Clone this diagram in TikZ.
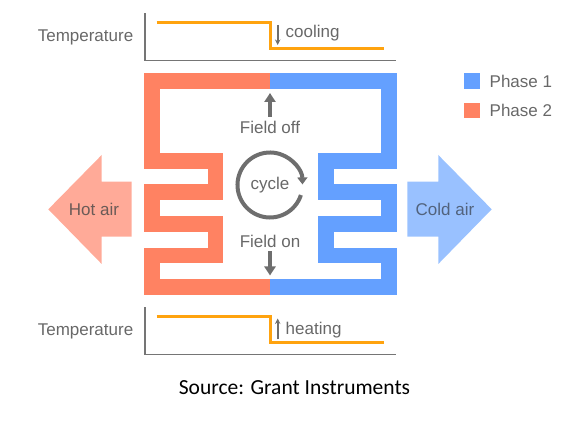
\documentclass[tikz,border=0pt]{standalone}
\usepackage{fontspec}
\setmainfont{Liberation Sans}
\newfontfamily\srcfont{Carlito}
\usetikzlibrary{arrows.meta}
\definecolor{phaseA}{HTML}{64A0FF}
\definecolor{phaseB}{HTML}{FF8262}
\definecolor{hotc}{HTML}{FFAA98}
\definecolor{coldc}{HTML}{99C1FF}
\definecolor{txt}{HTML}{686868}
\definecolor{hottxt}{HTML}{6B5B57}
\definecolor{coldtxt}{HTML}{52637D}
\definecolor{axisc}{HTML}{757575}
\definecolor{orangec}{HTML}{FFA30F}
\definecolor{arrc}{HTML}{6E6E6E}
\begin{document}
\begin{tikzpicture}[x=1pt,y=-1pt,
  lbl/.style={font=\fontsize{17}{20}\selectfont, text=txt, inner sep=0pt},
  band/.style={line width=15.8pt, line join=miter},
  axisline/.style={draw=axisc, line width=1.5pt},
  templine/.style={draw=orangec, line width=3pt, line join=miter},
  smallarr/.style={draw=arrc, line width=1.6pt, -{Stealth[length=5.5pt,width=5.5pt]}},
  fieldarr/.style={draw=arrc, line width=3.8pt, -{Triangle[length=9pt,width=11pt]}},
  legendsq/.style={minimum size=15.7pt, inner sep=0pt, draw=none}]
\useasboundingbox (0,0) rectangle (579,435);

% ---------- top temperature chart ----------
\node[lbl] (t1) at (85.5,37) {Temperature};
\draw[axisline] (145,13.3) -- (145,60.5) -- (395.7,60.5);
\draw[templine] (156.7,23) -- (270,23) -- (270,49) -- (384.3,49);
\coordinate (c1a) at (277.7,25);
\coordinate (c1b) at (277.7,45);
\draw[smallarr] (c1a) -- (c1b);
\node[lbl, anchor=west] (cool) at (285.5,33.5) {cooling};

% ---------- serpentine ----------
\draw[band, phaseB] (270,81.3) -- (152,81.3) -- (152,160.9) -- (215.5,160.9) -- (215.5,192.2) -- (152,192.2) -- (152,223.9) -- (215.5,223.9) -- (215.5,255.5) -- (152,255.5) -- (152,287.2) -- (270,287.2);
\draw[band, phaseA] (270,81.3) -- (389.3,81.3) -- (389.3,160.9) -- (325.8,160.9) -- (325.8,192.2) -- (389.3,192.2) -- (389.3,223.9) -- (325.8,223.9) -- (325.8,255.5) -- (389.3,255.5) -- (389.3,287.2) -- (270,287.2);

% ---------- centre ----------
\coordinate (fo1) at (270,117);
\coordinate (fo2) at (270,93);
\draw[fieldarr] (fo1) -- (fo2);
\node[lbl] (foff) at (270,127) {Field off};
\node[lbl] (cyc) at (270,185) {cycle};
\draw[draw=arrc, line width=4pt, -{Triangle[length=7pt,width=10pt]}] (270,185) ++(18:32.5) arc[start angle=18, end angle=359, radius=32.5];
\node[lbl] (fon) at (270,241) {Field on};
\coordinate (fn1) at (270,251.5);
\coordinate (fn2) at (270,275.5);
\draw[fieldarr] (fn1) -- (fn2);

% ---------- air arrows ----------
\fill[hotc] (131.7,181.7) -- (101.7,181.7) -- (101.7,155) -- (48.3,209.3) -- (101.7,264) -- (101.7,236.7) -- (131.7,236.7) -- cycle;
\node[lbl, text=hottxt] (hot) at (94,209.5) {Hot air};
\fill[coldc] (407.3,181.7) -- (438.3,181.7) -- (438.3,155) -- (491.7,209.3) -- (438.3,264) -- (438.3,236.7) -- (407.3,236.7) -- cycle;
\node[lbl, text=coldtxt] (cold) at (445,209.5) {Cold air};

% ---------- legend ----------
\node[legendsq, fill=phaseA] (lg1) at (472.2,81.2) {};
\node[lbl, anchor=west] (lt1) at (489.5,81.2) {Phase 1};
\node[legendsq, fill=phaseB] (lg2) at (472.2,110.5) {};
\node[lbl, anchor=west] (lt2) at (489.5,110.5) {Phase 2};

% ---------- bottom temperature chart ----------
\node[lbl] (t2) at (85.5,331.5) {Temperature};
\draw[axisline] (145,307.3) -- (145,354.3) -- (395.7,354.3);
\draw[templine] (156.7,317) -- (270,317) -- (270,342.7) -- (384.3,342.7);
\coordinate (h1a) at (277.7,339.5);
\coordinate (h1b) at (277.7,318.5);
\draw[smallarr] (h1a) -- (h1b);
\node[lbl, anchor=west] (heat) at (285.5,330) {heating};

% ---------- source ----------
\node[inner sep=0pt, font=\srcfont\fontsize{21.5}{25}\selectfont] (src) at (294.5,388) {Source: Grant Instruments};
\end{tikzpicture}
\end{document}
